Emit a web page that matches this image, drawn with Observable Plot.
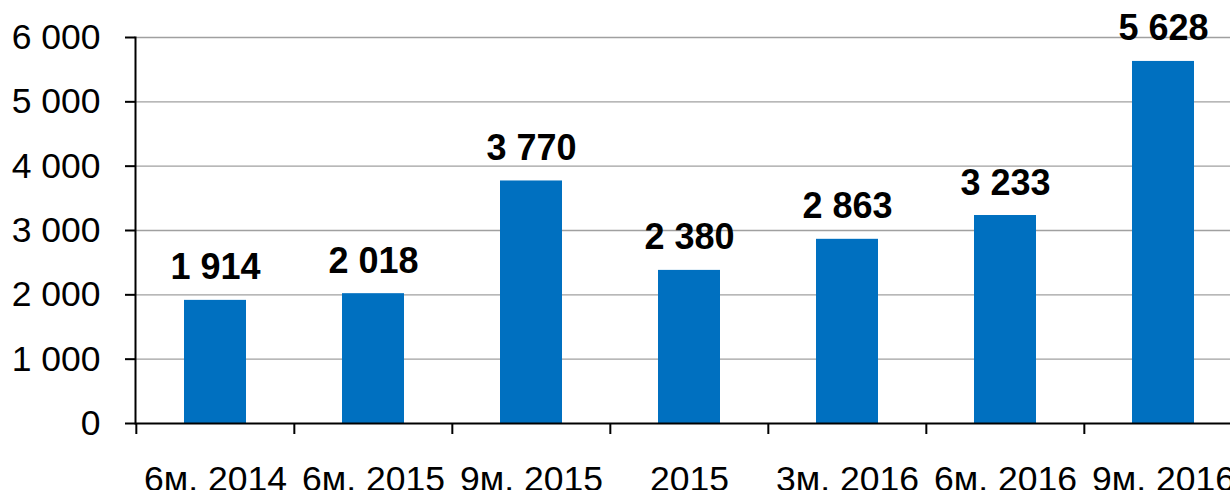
<!DOCTYPE html>
<html>
<head>
<meta charset="utf-8">
<script src="https://cdn.jsdelivr.net/npm/d3@7"></script>
<script src="https://cdn.jsdelivr.net/npm/@observablehq/plot@0.6"></script>
<style>
  html, body { margin: 0; padding: 0; background: #fff; overflow: hidden; }
  #chart svg { display: block; }
</style>
</head>
<body>
<div id="chart"></div>
<script>
const categories = ["6м. 2014", "6м. 2015", "9м. 2015", "2015", "3м. 2016", "6м. 2016", "9м. 2016"];
const values = [1914, 2018, 3770, 2380, 2863, 3233, 5628];
const yTicks = [0, 1000, 2000, 3000, 4000, 5000, 6000];

const data = categories.map((c, i) => ({category: c, value: values[i]}));
const fmt = v => d3.format(",")(v).replace(/,/g, " ");

const W = 1230, H = 490;
const left = 135, rightEdge = 1243.4;
const step = (rightEdge - left) / categories.length;

const chart = Plot.plot({
  width: W,
  height: H,
  marginLeft: left,
  marginRight: 0,
  marginTop: 37,
  marginBottom: 67,
  style: {fontFamily: "'Liberation Sans', Arial, sans-serif", color: "#000", background: "#fff"},
  x: {domain: categories, range: [left, rightEdge], paddingInner: 0.605, paddingOuter: 0.3025, align: 0.5, axis: null, label: null},
  y: {domain: [0, 6000], axis: null, label: null},
  marks: [
    Plot.ruleY(yTicks.filter(d => d > 0), {stroke: "#a0a0a0", strokeWidth: 1.3}),
    Plot.barY(data, {x: "category", y: "value", fill: "#0070C0"}),
    Plot.ruleY([0], {stroke: "#000", strokeWidth: 2}),
    Plot.frame({anchor: "left", stroke: "#000", strokeWidth: 2}),
    Plot.axisY({ticks: yTicks, tickSize: 10, tickPadding: 25, tickFormat: fmt, fontSize: 35.5, stroke: "#000", strokeWidth: 2, strokeOpacity: 1, label: null}),
    Plot.axisX({tickSize: 11, text: null, dx: -step / 2, stroke: "#000", strokeWidth: 2, strokeOpacity: 1, label: null}),
    Plot.axisX({tickSize: 0, tickPadding: 42, fontSize: 35.5, label: null}),
    Plot.text(data, {x: "category", y: "value", text: d => fmt(d.value), fontWeight: "bold", fontSize: 36, lineAnchor: "middle", dy: -32.5, fill: "#000"})
  ]
});
document.getElementById("chart").appendChild(chart);
</script>
</body>
</html>
